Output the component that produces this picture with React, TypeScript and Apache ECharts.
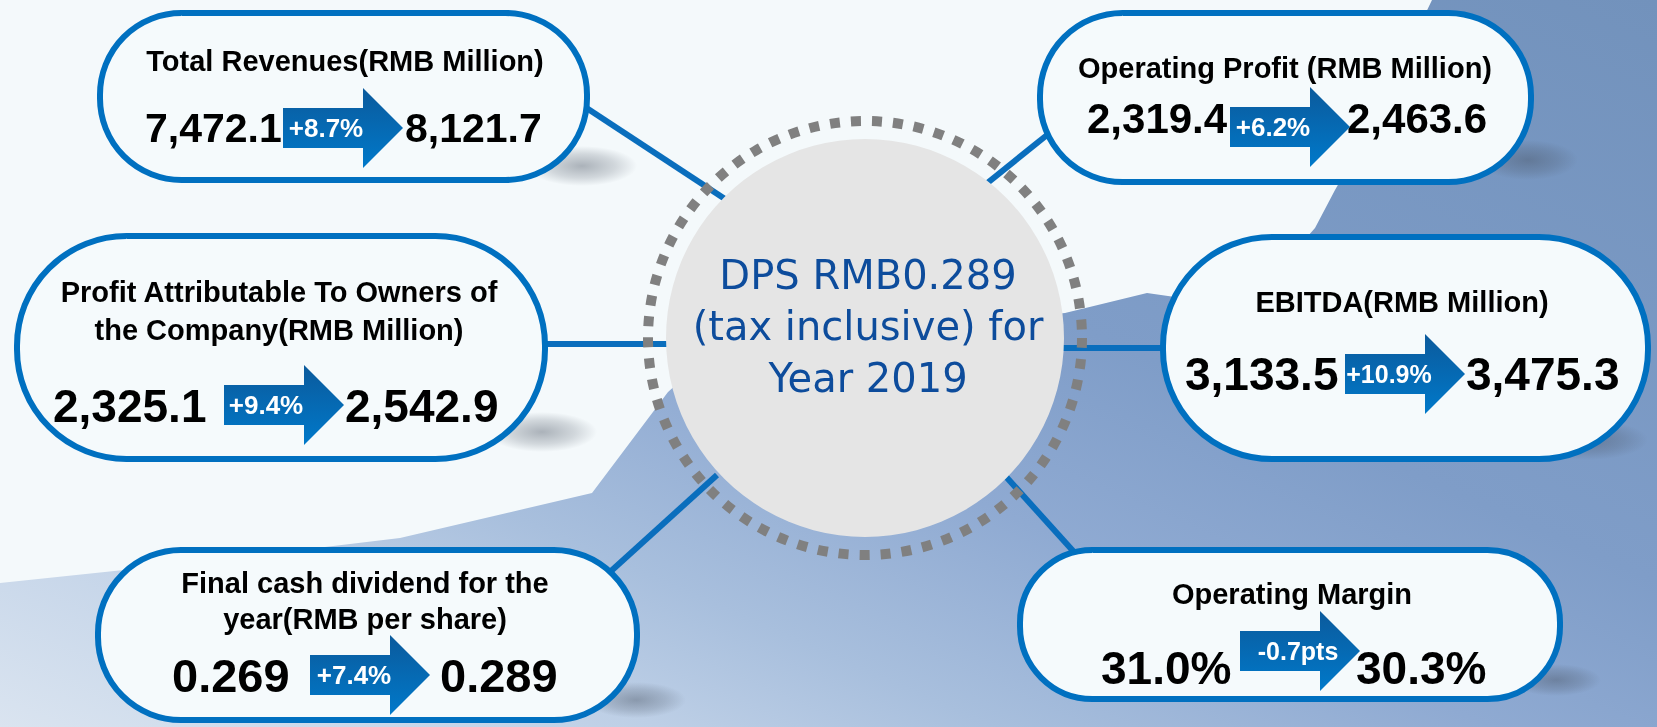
import React, { useEffect, useRef } from "react";
import * as echarts from "echarts";

// ---- data ----
const titles: string[][] = [
  ["Total Revenues(RMB Million)"],
  ["Profit Attributable To Owners of", "the Company(RMB Million)"],
  ["Final cash dividend for the", "year(RMB per share)"],
  ["Operating Profit (RMB Million)"],
  ["EBITDA(RMB Million)"],
  ["Operating Margin"],
];
const previousValues = ["7,472.1", "2,325.1", "0.269", "2,319.4", "3,133.5", "31.0%"];
const changeLabels = ["+8.7%", "+9.4%", "+7.4%", "+6.2%", "+10.9%", "-0.7pts"];
const currentValues = ["8,121.7", "2,542.9", "0.289", "2,463.6", "3,475.3", "30.3%"];
const centerLines = ["DPS RMB0.289", "(tax inclusive) for", "Year 2019"];

// ---- layout (positions / sizes) ----
const layout = [
  { box: [97, 10, 590, 183], titleX: 345, titleY: [71], numSize: 41, numY: 142, prevX: 145, currX: 405, arrowX: 283, arrowY: 128, labelX: 326, labelSize: 26, shadow: [582, 166, 55, 20] },
  { box: [14, 233, 548, 462], titleX: 279, titleY: [302, 340], numSize: 46, numY: 422, prevX: 53, currX: 345, arrowX: 224, arrowY: 405, labelX: 266, labelSize: 26, shadow: [542, 432, 55, 20] },
  { box: [95, 547, 640, 723], titleX: 365, titleY: [593, 629], numSize: 47, numY: 692, prevX: 172, currX: 440, arrowX: 310, arrowY: 675, labelX: 354, labelSize: 26, shadow: [636, 700, 50, 18] },
  { box: [1037, 10, 1534, 185], titleX: 1285, titleY: [78], numSize: 42, numY: 133, prevX: 1087, currX: 1347, arrowX: 1230, arrowY: 127, labelX: 1273, labelSize: 26, shadow: [1528, 160, 50, 20] },
  { box: [1160, 234, 1651, 462], titleX: 1402, titleY: [312], numSize: 46, numY: 390, prevX: 1185, currX: 1466, arrowX: 1345, arrowY: 374, labelX: 1389, labelSize: 25, shadow: [1588, 440, 60, 20] },
  { box: [1017, 547, 1563, 702], titleX: 1292, titleY: [604], numSize: 46, numY: 684, prevX: 1101, currX: 1356, arrowX: 1240, arrowY: 651, labelX: 1298, labelSize: 25, shadow: [1556, 680, 45, 16] },
];

const connectors = [
  [585, 107, 760, 222],
  [540, 344, 700, 344],
  [717, 475, 610, 572],
  [1052, 131, 960, 205],
  [1030, 348, 1165, 348],
  [1000, 470, 1074, 552],
];

const ARIAL = '"Liberation Sans", Arial, Helvetica, sans-serif';
const DEJAVU = '"DejaVu Sans", "Noto Sans", sans-serif';
const BLUE = "#0070C0";

function txt(text: string, x: number, baseline: number, size: number, opts: any = {}) {
  const k = 0.3465;
  const align = opts.align || "left";
  return {
    type: "text",
    x,
    y: baseline - k * size,
    silent: true,
    style: {
      text,
      fill: opts.fill || "#000",
      fontSize: size,
      fontWeight: opts.weight || "bold",
      fontFamily: opts.family || ARIAL,
      align,
      textAlign: align,
      verticalAlign: "middle",
      textVerticalAlign: "middle",
    },
  };
}

function buildElements() {
  const els: any[] = [];
  // background
  els.push({ type: "rect", silent: true, shape: { x: 0, y: 0, width: 1657, height: 727 }, style: { fill: "#F4F9FB" } });
  els.push({
    type: "polygon",
    silent: true,
    shape: {
      points: [
        [0, 583], [200, 562], [400, 538], [592, 493], [668, 392], [720, 345], [1065, 313],
        [1147, 293], [1175, 297], [1300, 245], [1315, 228], [1335, 190], [1355, 155],
        [1383, 100], [1408, 50], [1432, 0], [1657, 0], [1657, 727], [0, 727],
      ],
    },
    style: {
      fill: new echarts.graphic.LinearGradient(0, 1, 1, 0, [
        { offset: 0, color: "#DAE4F0" },
        { offset: 0.2, color: "#BDCFE6" },
        { offset: 0.3, color: "#A8BFDD" },
        { offset: 0.45, color: "#8FAAD2" },
        { offset: 0.6, color: "#7F9DC8" },
        { offset: 1, color: "#7292BC" },
      ]),
    },
  });

  // connectors
  connectors.forEach((c) => {
    els.push({ type: "line", silent: true, shape: { x1: c[0], y1: c[1], x2: c[2], y2: c[3] }, style: { stroke: "#0A6EBD", lineWidth: 6 } });
  });

  // center circle
  const cx = 865, cy = 338;
  els.push({ type: "circle", silent: true, shape: { cx, cy, r: 199 }, style: { fill: "#E5E5E5" } });
  els.push({ type: "circle", silent: true, shape: { cx, cy, r: 217 }, style: { fill: "none", stroke: "#808080", lineWidth: 10, lineDash: [10, 11] } });
  const centerBase = [289, 340, 392];
  centerLines.forEach((t, i) => {
    els.push(txt(t, 868, centerBase[i], 40, { family: DEJAVU, weight: "normal", align: "center", fill: "#0D4C9C" }));
  });

  // boxes
  layout.forEach((L, i) => {
    const [x0, y0, x1, y1] = L.box;
    const [sx, sy, rx, ry] = L.shadow;
    els.push({
      type: "ellipse",
      silent: true,
      shape: { cx: sx, cy: sy, rx, ry },
      style: {
        fill: new echarts.graphic.RadialGradient(0.5, 0.5, 0.5, [
          { offset: 0, color: "rgba(70,80,95,0.42)" },
          { offset: 0.6, color: "rgba(70,80,95,0.2)" },
          { offset: 1, color: "rgba(70,80,95,0)" },
        ]),
      },
    });
    const h = y1 - y0 - 6;
    els.push({
      type: "rect",
      silent: true,
      shape: { x: x0 + 3, y: y0 + 3, width: x1 - x0 - 6, height: h, r: h / 2 - 2 },
      style: { fill: "#F5FAFC", stroke: BLUE, lineWidth: 6 },
    });
    titles[i].forEach((t, j) => {
      els.push(txt(t, L.titleX, L.titleY[j], 29, { align: "center" }));
    });
    els.push(txt(previousValues[i], L.prevX, L.numY, L.numSize));
    els.push(txt(currentValues[i], L.currX, L.numY, L.numSize));
    const ax = L.arrowX, ay = L.arrowY;
    els.push({
      type: "polygon",
      silent: true,
      shape: {
        points: [
          [ax, ay - 20], [ax + 80, ay - 20], [ax + 80, ay - 40], [ax + 120, ay],
          [ax + 80, ay + 40], [ax + 80, ay + 20], [ax, ay + 20],
        ],
      },
      style: {
        fill: new echarts.graphic.LinearGradient(0, 0, 0, 1, [
          { offset: 0, color: "#0B5A9C" },
          { offset: 1, color: "#0079CA" },
        ]),
      },
    });
    els.push(txt(changeLabels[i], L.labelX, ay + 0.3465 * L.labelSize, L.labelSize, { align: "center", fill: "#FFFFFF" }));
  });
  return els;
}

export default function App() {
  const ref = useRef<HTMLDivElement>(null);
  useEffect(() => {
    if (!ref.current) return;
    const chart = echarts.init(ref.current, undefined, { renderer: "svg" });
    chart.setOption({ animation: false, graphic: buildElements() });
    return () => chart.dispose();
  }, []);
  return (
    <div
      ref={ref}
      style={{ position: "fixed", left: 0, top: 0, width: 1657, height: 727 }}
    />
  );
}
